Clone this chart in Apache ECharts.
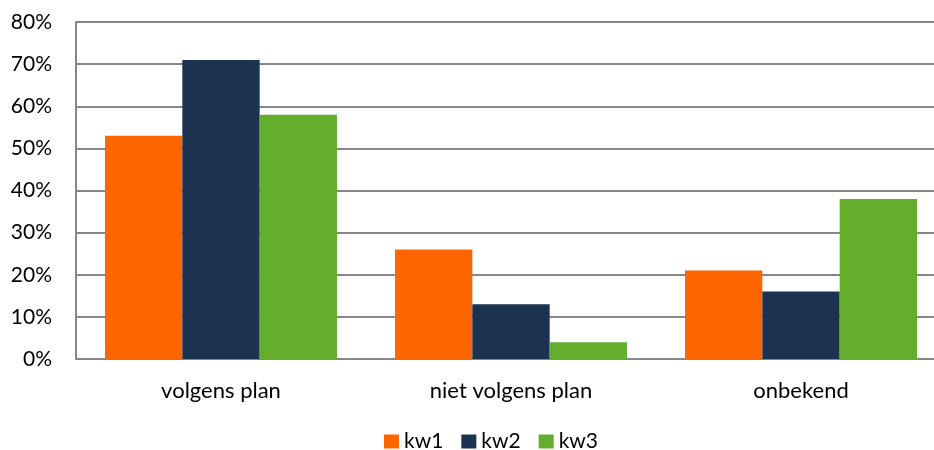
<!DOCTYPE html>
<html><head><meta charset="utf-8">
<script src="https://cdn.jsdelivr.net/npm/echarts@6/dist/echarts.min.js"></script>
<style>html,body{margin:0;padding:0;background:#fff;overflow:hidden;width:934px;height:450px}#c{width:946px;height:450px}</style>
</head><body><div id="c"></div>
<script>
const categories = ['volgens plan', 'niet volgens plan', 'onbekend'];
const kw1 = [53, 26, 21];
const kw2 = [71, 13, 16];
const kw3 = [58, 4, 38];
const seriesNames = ['kw1', 'kw2', 'kw3'];
const colors = ['#FF6600', '#1B3350', '#65AE2D'];
const FONT = 'Lato, "Open Sans", sans-serif';
const chart = echarts.init(document.getElementById('c'), null, {renderer: 'canvas'});
const mk = (name, data, i) => ({
  name, type: 'bar', data, barGap: '0%', barCategoryGap: '20%',
  itemStyle: {color: colors[i]}, emphasis: {disabled: true}
});
chart.setOption({
  animation: false,
  textStyle: {fontFamily: FONT},
  grid: {left: 76, right: 0, top: 22, bottom: 91, containLabel: false},
  legend: {
    top: 431, left: 384, padding: 0,
    itemWidth: 15, itemHeight: 14, itemGap: 18, icon: 'rect',
    textStyle: {fontFamily: FONT, fontSize: 21, color: '#000'},
    data: seriesNames
  },
  xAxis: {
    type: 'category', data: categories,
    axisLine: {lineStyle: {color: '#868686', width: 2}},
    axisTick: {show: false},
    axisLabel: {fontFamily: FONT, fontSize: 22, color: '#000', margin: 21}
  },
  yAxis: {
    type: 'value', min: 0, max: 80, interval: 10,
    axisLine: {show: true, lineStyle: {color: '#868686', width: 2}},
    axisTick: {show: false},
    splitLine: {lineStyle: {color: '#868686', width: 2}},
    axisLabel: {formatter: '{value}%', fontFamily: FONT, fontSize: 21, color: '#000', margin: 24}
  },
  series: [mk('kw1', kw1, 0), mk('kw2', kw2, 1), mk('kw3', kw3, 2)]
});
</script></body></html>
